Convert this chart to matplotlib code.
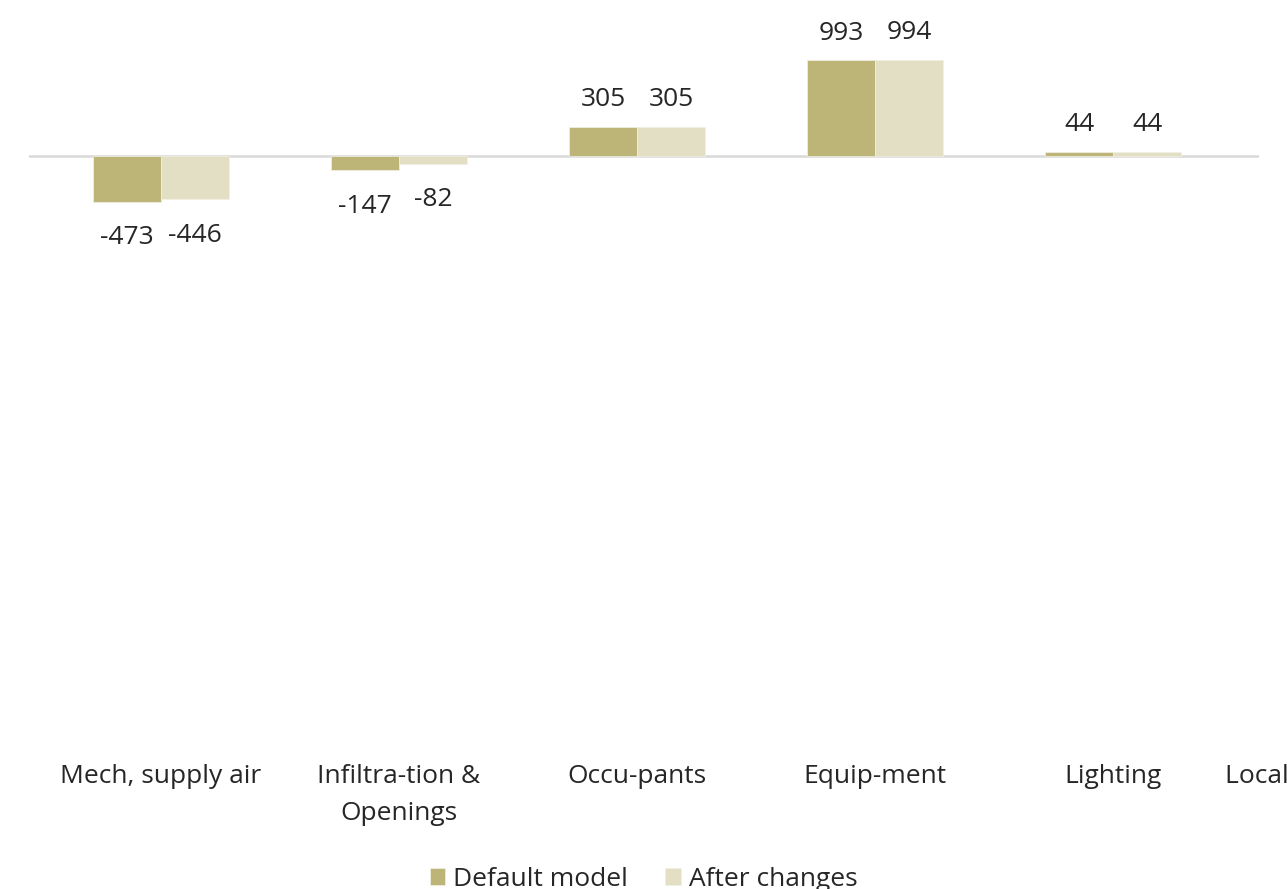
import matplotlib
matplotlib.use("Agg")
import matplotlib.pyplot as plt
import matplotlib.transforms as mtrans
import numpy as np

categories = ["Mech, supply air", "Infiltra-tion &\nOpenings", "Occu-pants", "Equip-ment", "Lighting"]
extra_category = "Local heating units"
default_model = [-473, -147, 305, 993, 44]
after_changes = [-446, -82, 305, 994, 44]

c_default = "#BDB477"
c_after = "#E3DFC5"
txt = "#262626"
plt.rcParams['font.family'] = ['Open Sans', 'DejaVu Sans']
FS = 19

W, H = 1287, 889
fig = plt.figure(figsize=(W / 100, H / 100), dpi=100)
left, right, top, bottom = 29, 1259, 11, 736
ax = fig.add_axes([left / W, 1 - bottom / H, (right - left) / W, (bottom - top) / H])

x = np.arange(len(categories))
bw = 68 / 238
b1 = ax.bar(x - bw / 2, default_model, bw, color=c_default, label="Default model",
            edgecolor="#F2F0E4", linewidth=0.5)
b2 = ax.bar(x + bw / 2, after_changes, bw, color=c_after, label="After changes",
            edgecolor="#F2F0E4", linewidth=0.5)

ax.set_xlim(-132 / 238, (right - left - 132) / 238)
ax.set_ylim(-6000, 1500)
ax.axhline(0, color="#D9D9D9", lw=1.8, zorder=0)

for bars, vals in ((b1, default_model), (b2, after_changes)):
    for b, v in zip(bars, vals):
        xc = b.get_x() + b.get_width() / 2
        if v >= 0:
            ax.annotate(f"{v}", (xc, v), xytext=(0, 27), textcoords="offset pixels",
                        ha="center", va="center", fontsize=FS, color=txt)
        else:
            ax.annotate(f"{v}", (xc, v), xytext=(0, -36), textcoords="offset pixels",
                        ha="center", va="center", fontsize=FS, color=txt)

for sp in ax.spines.values():
    sp.set_visible(False)
ax.set_yticks([])
ax.set_xticks(x)
ax.set_xticklabels(categories, fontsize=FS, color=txt, linespacing=1.65)
ax.tick_params(axis="x", length=0, pad=20)

t = ax.text((1225 - left - 132) / 238, -6000, extra_category, ha="left", va="top",
            fontsize=FS, color=txt, clip_on=False)
t.set_transform(ax.transData + mtrans.ScaledTranslation(0, -20 / 72, fig.dpi_scale_trans))

fig.legend(handles=[b1, b2], loc="center", bbox_to_anchor=(0.5, 1 - 879 / H), ncol=2,
           frameon=False, fontsize=FS, handlelength=0.6, handleheight=0.6,
           handletextpad=0.3, columnspacing=1.4, labelcolor=txt)

fig.savefig("out.png", dpi=100)
